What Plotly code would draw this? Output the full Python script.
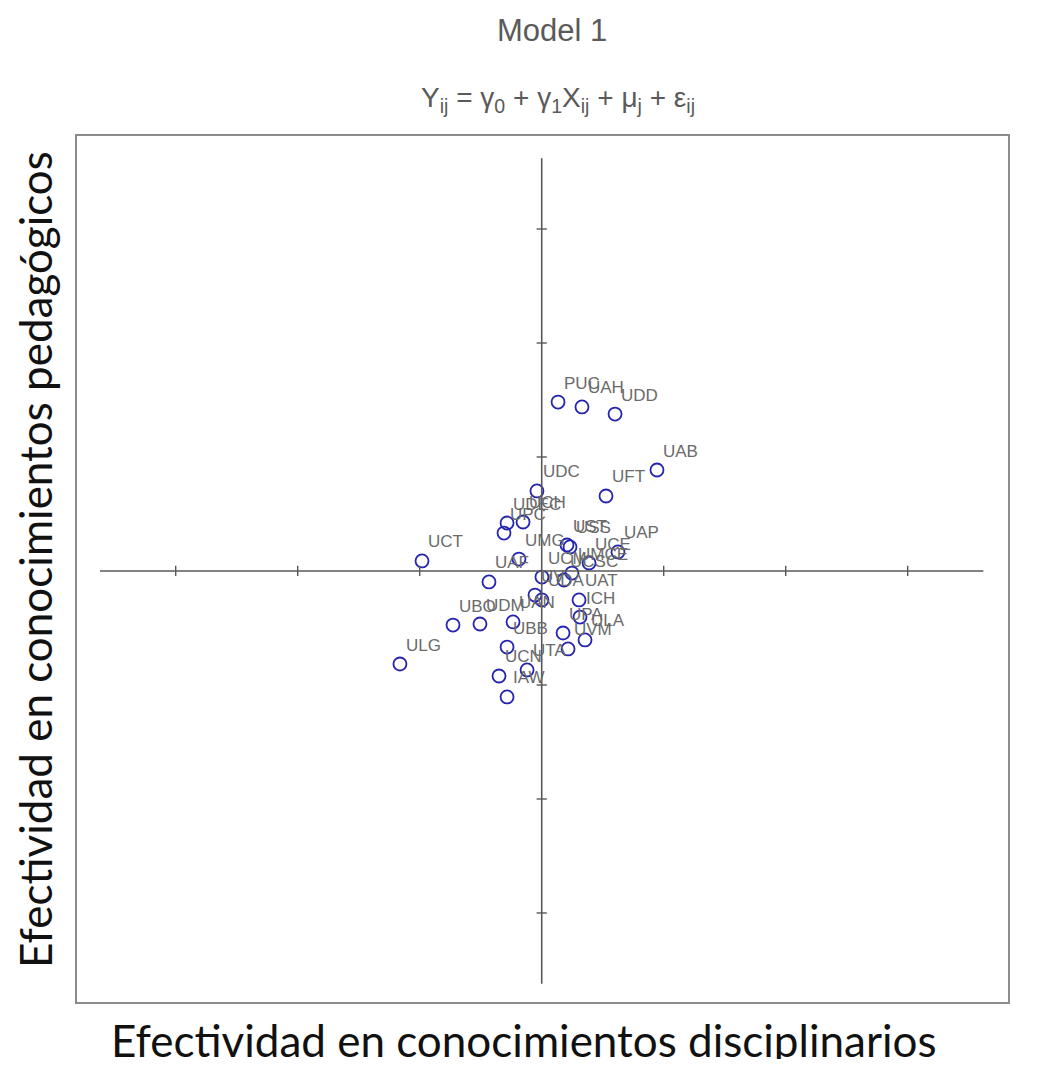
import plotly.graph_objects as go

# ---- data ----
labels = ["PUC", "UAH", "UDD", "UAB", "UFT", "UDC", "UDEC", "UCH", "UPC", "UCT",
          "UST", "USS", "UAP", "UCE", "UMG", "UAF", "UCM", "UCSC", "UMCE", "UV",
          "UDA", "UAT", "ICH", "UPA", "ULA", "UVM", "UAN", "UDM", "UBO", "ULG",
          "UBB", "UCN", "UTA", "IAW"]
x_disc = [0.134, 0.330, 0.601, 0.945, 0.527, -0.039, -0.284, -0.153, -0.309, -0.981,
          0.207, 0.232, 0.625, 0.388, -0.186, -0.432, 0.002, 0.183, 0.248, -0.055,
          0.002, 0.306, 0.314, 0.175, 0.355, 0.216, -0.235, -0.506, -0.727, -1.162,
          -0.284, -0.350, -0.120, -0.284]
y_ped = [1.482, 1.439, 1.377, 0.886, 0.658, 0.702, 0.421, 0.430, 0.333, 0.088,
         0.228, 0.211, 0.167, 0.070, 0.105, -0.096, -0.053, -0.079, -0.018, -0.211,
         -0.254, -0.254, -0.404, -0.544, -0.605, -0.684, -0.447, -0.465, -0.474, -0.816,
         -0.667, -0.921, -0.868, -1.105]
tick_vals = [-3, -2, -1, 1, 2, 3]

title_text = "Model 1"
equation_text = ("Y<sub>ij</sub> = γ<sub>0</sub> + γ<sub>1</sub>X<sub>ij</sub> + "
                 "μ<sub>j</sub> + ε<sub>ij</sub>")
x_title = "Efectividad en conocimientos disciplinarios"
y_title = "Efectividad en conocimientos pedagógicos"

# ---- layout geometry (page pixels; the page body adds an 8px offset) ----
OFF = 8
W, H = 1056 - 2 * OFF, 1067 - 2 * OFF
L, R, T, B = 77 - OFF, 1008 - OFF, 136 - OFF, 1002 - OFF
pw, ph = R - L, B - T
XR = [-3.809, 3.822]
YR = [-3.781, 3.816]
AX = 3.62          # extent of the drawn axes
TX = 0.042         # half tick length (x units)
TY = 0.045         # half tick length (y units)
axis_col = "#585858"


def px(xp):
    return (xp - OFF - L) / pw


def py(yp):
    return (B - (yp - OFF)) / ph


fig = go.Figure()
fig.add_trace(go.Scatter(
    x=x_disc, y=y_ped, mode="markers",
    marker=dict(symbol="circle-open", size=13, color="#2424b0",
                line=dict(width=1.8, color="#2424b0")),
    hoverinfo="skip", showlegend=False))

shapes = []
shapes.append(dict(type="line", xref="x", yref="y", x0=-AX, x1=AX, y0=0, y1=0,
                   line=dict(color=axis_col, width=1.6)))
shapes.append(dict(type="line", xref="x", yref="y", x0=0, x1=0, y0=-AX, y1=AX,
                   line=dict(color=axis_col, width=1.6)))
for t in tick_vals:
    shapes.append(dict(type="line", xref="x", yref="y", x0=t, x1=t, y0=-TY, y1=TY,
                       line=dict(color=axis_col, width=1.4)))
    shapes.append(dict(type="line", xref="x", yref="y", x0=-TX, x1=TX, y0=t, y1=t,
                       line=dict(color=axis_col, width=1.4)))

annotations = []
for lab, xv, yv in zip(labels, x_disc, y_ped):
    annotations.append(dict(x=xv, y=yv, xref="x", yref="y", text=lab, showarrow=False,
                            xanchor="left", yanchor="middle", xshift=4, yshift=19,
                            font=dict(family="Liberation Sans", size=17, color="#6a6a6a")))
annotations.append(dict(x=px(552), y=py(30), xref="paper", yref="paper",
                        text=title_text, showarrow=False, xanchor="center", yanchor="middle",
                        font=dict(family="Liberation Sans", size=31, color="#5a5a5a")))
annotations.append(dict(x=px(558), y=py(100), xref="paper", yref="paper",
                        text=equation_text, showarrow=False, xanchor="center", yanchor="middle",
                        font=dict(family="Liberation Sans", size=28, color="#5a5a5a")))
annotations.append(dict(x=px(523), y=py(1040), xref="paper", yref="paper",
                        text=x_title, showarrow=False, xanchor="center", yanchor="middle",
                        font=dict(family="Lato", size=44, color="#111111")))
annotations.append(dict(x=px(35), y=py(560), xref="paper", yref="paper",
                        text=y_title, showarrow=False, xanchor="center", yanchor="middle",
                        textangle=-90,
                        font=dict(family="Lato", size=44, color="#111111")))

axis_common = dict(showgrid=False, zeroline=False, showticklabels=False, ticks="",
                   showline=True, mirror=True, linecolor="#8c8c8c", linewidth=1.5,
                   fixedrange=True)
fig.update_layout(
    width=W, height=H,
    margin=dict(l=L, r=W - R, t=T, b=H - B, pad=0),
    paper_bgcolor="white", plot_bgcolor="white",
    xaxis=dict(range=XR, **axis_common),
    yaxis=dict(range=YR, **axis_common),
    shapes=shapes, annotations=annotations, showlegend=False)

fig.write_html("out.html")
